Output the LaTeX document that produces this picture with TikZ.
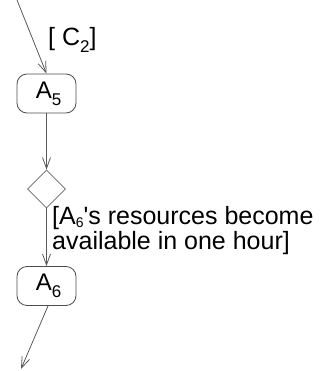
\documentclass[tikz,border=0pt]{standalone}
\usepackage{fontspec}
\setmainfont{Liberation Sans}
\usetikzlibrary{arrows.meta,shapes.geometric}
% subscript: optional drop, then the text
\newcommand{\lowsub}[2][0.28em]{\raisebox{-#1}{\fontsize{17}{17}\selectfont #2}}
\newcommand{\smallsub}[1]{\raisebox{-0.12em}{\fontsize{14}{14}\selectfont #1}}
\begin{document}
\begin{tikzpicture}[x=1pt,y=-1pt,
  flow/.style={draw=black!65, line width=0.8pt, -{Straight Barb[length=11pt,width=8pt]}},
  act/.style={draw=black!70, line width=0.8pt, rounded corners=10pt,
    minimum width=59pt, minimum height=39pt, inner sep=0pt,
    font=\fontsize{24}{26}\selectfont},
  dec/.style={draw=black!60, line width=0.8pt, diamond, minimum width=38pt,
    minimum height=38pt, inner sep=0pt},
  guard/.style={font=\fontsize{25}{25}\selectfont, align=left, inner sep=0pt}]
\useasboundingbox (0,0) rectangle (327,371);
% activities and decision
\node[act] (a5) at (46.5,93.5) {\hspace*{4pt}A\lowsub{5}};
\node[dec] (d) at (46.5,189) {};
\node[act] (a6) at (46.5,286) {\hspace*{4pt}A\lowsub{6}};
\coordinate (in) at (17,0);
\coordinate (out) at (21,369);
% guards
\node[guard, anchor=west] (g1) at (48,40) {[ C\lowsub{2}]};
\node[guard, anchor=north west] (g2) at (52,206) {[A\smallsub{6}\textquotesingle s resources become\\available in one hour]};
% flows
\draw[flow] (in) -- (a5.north);
\draw[flow] (a5.south) -- (d.north);
\draw[flow] (d.south) -- (a6.north);
\draw[flow] ([xshift=1.5pt]a6.south) -- (out);
\end{tikzpicture}
\end{document}
